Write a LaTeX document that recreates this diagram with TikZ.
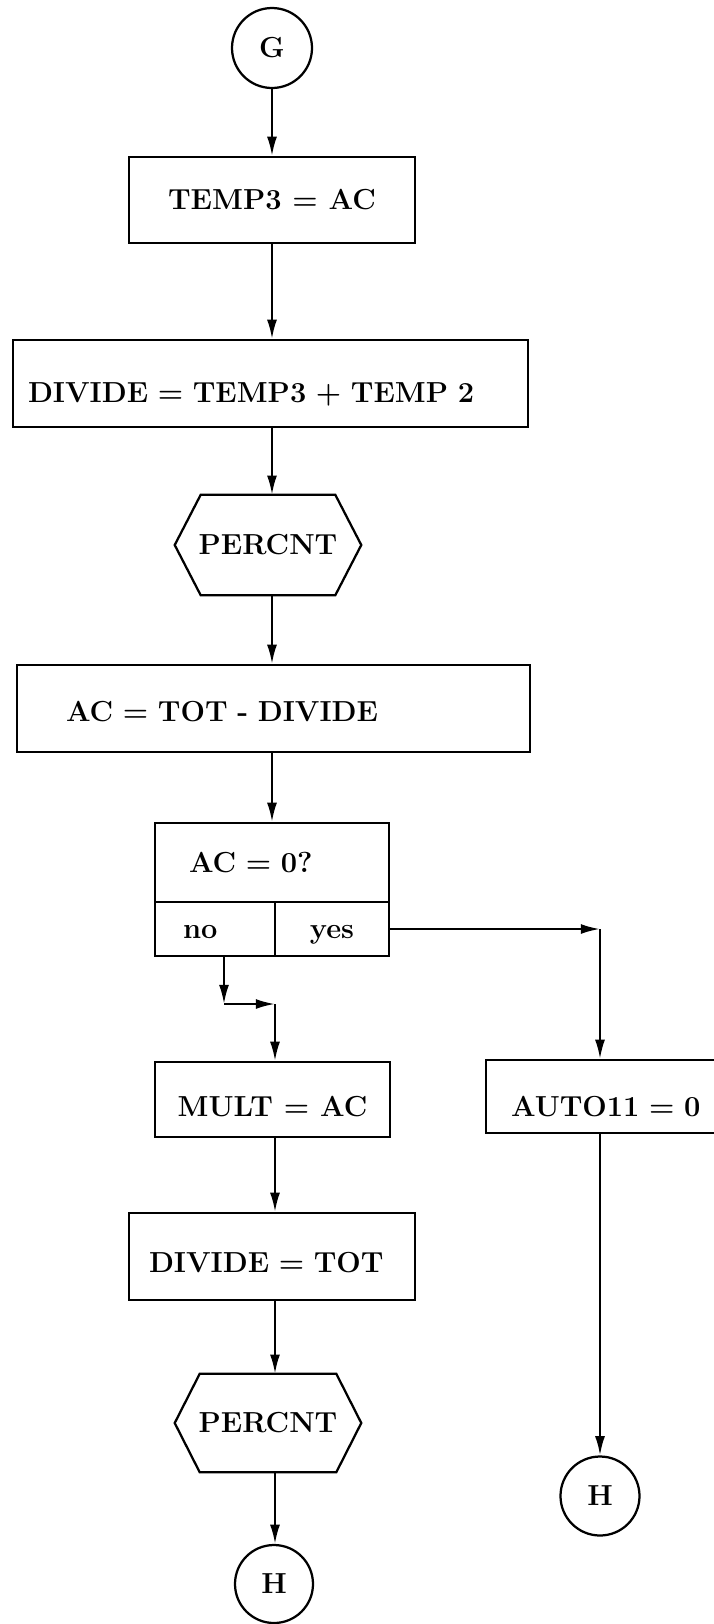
\documentclass[tikz,border=0pt]{standalone}
\usetikzlibrary{arrows.meta}
\begin{document}
\begin{tikzpicture}[x=1cm,y=-1cm,
  blk/.style={draw,line width=1.6pt,inner sep=0pt,text height=0.49cm,text depth=0pt,font=\fontsize{20.6}{24}\selectfont\bfseries},
  hexa/.style={inner sep=0pt,text height=0.49cm,text depth=0pt,font=\fontsize{20.6}{24}\selectfont\bfseries},
  conn/.style={draw,circle,line width=1.6pt,inner sep=0pt,font=\fontsize{20.6}{24}\selectfont\bfseries},
  arr/.style={line width=1.6pt,-{Latex[length=0.48cm,width=0.25cm]}}]
 \useasboundingbox (0,0) rectangle (17.825,40.6);
 % main column
 \node[conn,minimum size=2cm] (G) at (6.8,1.2) {G};
 \node[blk,minimum width=7.15cm,minimum height=2.15cm] (TEMP3) at (6.8,5.0) {TEMP3 = AC};
 \node[blk,minimum height=2.175cm,text width=12.125cm,inner xsep=0.375cm,align=left,text height=0.94cm] (DIVIDE) at (6.7625,9.5875) {DIVIDE = TEMP3 + TEMP 2};
 \node[hexa,minimum width=4.65cm,minimum height=2.5cm] (PERC1) at (6.7,13.625) {PERCNT};
 \draw[line width=1.6pt] ([xshift=0.65cm]PERC1.north west) -- ([xshift=-0.65cm]PERC1.north east) -- (PERC1.east) -- ([xshift=-0.65cm]PERC1.south east) -- ([xshift=0.65cm]PERC1.south west) -- (PERC1.west) -- cycle;
 \node[blk,minimum height=2.175cm,text width=10.375cm,inner xsep=1.225cm,align=left,text height=0.665cm] (ACTOT) at (6.8375,17.7125) {AC = TOT - DIVIDE};
 % test
 \node[blk,minimum height=1.975cm,text width=4.15cm,inner xsep=0.85cm,align=left] (ACQ) at (6.8,21.5625) {AC = 0?};
 \node[blk,minimum height=1.35cm,text width=1.6cm,inner xsep=0.7cm,align=left] (NO) at (5.375,23.225) {no};
 \node[blk,minimum width=2.85cm,minimum height=1.35cm] (YES) at (8.3,23.225) {yes};
 % no branch
 \node[blk,minimum width=5.875cm,minimum height=1.875cm,text height=0.865cm] (MULT) at (6.8125,27.4875) {MULT = AC};
 \node[blk,minimum height=2.175cm,text width=6.15cm,inner xsep=0.5cm,align=left,text height=0.81cm] (DIV2) at (6.8,31.4125) {DIVIDE = TOT};
 \node[hexa,minimum width=4.65cm,minimum height=2.45cm] (PERC2) at (6.7,35.575) {PERCNT};
 \draw[line width=1.6pt] ([xshift=0.625cm]PERC2.north west) -- ([xshift=-0.625cm]PERC2.north east) -- (PERC2.east) -- ([xshift=-0.625cm]PERC2.south east) -- ([xshift=0.625cm]PERC2.south west) -- (PERC2.west) -- cycle;
 \node[conn,minimum size=1.95cm] (HL) at (6.85,39.6) {H};
 % yes branch
 \node[blk,minimum height=1.825cm,text width=5.2cm,inner xsep=0.625cm,align=left,text height=1.015cm] (AUTO) at (15.375,27.4125) {AUTO11 = 0};
 \node[conn,minimum size=1.975cm] (HR) at (15.0,37.4) {H};
 \coordinate (ycorner) at (15.0,23.225);
 \coordinate (nc1) at (5.6,25.1);
 \coordinate (nc2) at (6.875,25.1);
 % connectors
 \draw[arr] (G) -- (TEMP3);
 \draw[arr] (TEMP3) -- (TEMP3 |- DIVIDE.north);
 \draw[arr] (TEMP3 |- DIVIDE.south) -- (TEMP3 |- PERC1.north);
 \draw[arr] (TEMP3 |- PERC1.south) -- (TEMP3 |- ACTOT.north);
 \draw[arr] (TEMP3 |- ACTOT.south) -- (TEMP3 |- ACQ.north);
 \draw[arr] (YES) -- (ycorner);
 \draw[arr] (ycorner) -- (ycorner |- AUTO.north);
 \draw[arr] (ycorner |- AUTO.south) -- (HR);
 \draw[arr] (nc1 |- NO.south) -- (nc1);
 \draw[arr] (nc1) -- (nc2);
 \draw[arr] (nc2) -- (nc2 |- MULT.north);
 \draw[arr] (nc2 |- MULT.south) -- (nc2 |- DIV2.north);
 \draw[arr] (nc2 |- DIV2.south) -- (nc2 |- PERC2.north);
 \draw[arr] (nc2 |- PERC2.south) -- (nc2 |- HL.north);
\end{tikzpicture}
\end{document}
